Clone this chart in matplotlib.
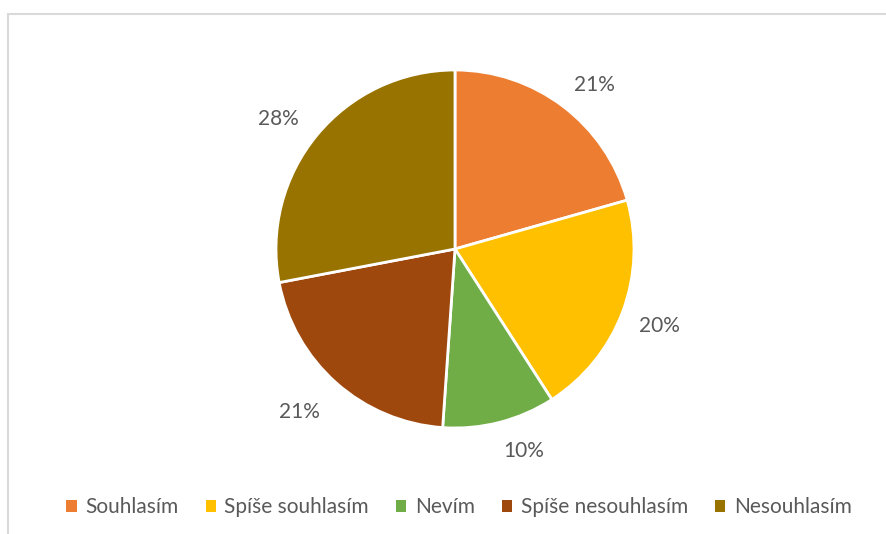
import matplotlib.pyplot as plt
from matplotlib.patches import Patch, Rectangle

# Data
categories = ['Souhlasím', 'Spíše souhlasím', 'Nevím', 'Spíše nesouhlasím', 'Nesouhlasím']
shares = [20.6, 20.3, 10.2, 20.9, 28.0]
colors = ['#ED7D31', '#FFC000', '#70AD47', '#9E480E', '#997300']

plt.rcParams['font.family'] = ['Lato', 'DejaVu Sans']
TEXT_COLOR = '#595959'

fig = plt.figure(figsize=(8.86, 5.34), dpi=100)
W, H = 886, 534
cx, cy, r = 455, 249, 179
ax = fig.add_axes([(cx - r) / W, (H - cy - r) / H, 2 * r / W, 2 * r / H])

wedges, texts, autotexts = ax.pie(
    shares, colors=colors, startangle=90, counterclock=False,
    autopct='%.0f%%', pctdistance=1.22, radius=1,
    wedgeprops=dict(edgecolor='white', linewidth=2),
    textprops=dict(color=TEXT_COLOR, fontsize=15),
)

# nudge labels to mimic Excel's "best fit" placement (pixel offsets)
nudges = [(8, -10), (0, 0), (14, 10), (-11, 0), (-8, -9)]
for t, (dx, dy) in zip(autotexts, nudges):
    x, y = t.get_position()
    t.set_position((x + dx / r, y + dy / r))

ax.set_xlim(-1, 1)
ax.set_ylim(-1, 1)
ax.set_aspect('equal')
ax.axis('off')

handles = [Patch(facecolor=c, edgecolor='none') for c in colors]
fig.legend(handles, categories, loc='center', bbox_to_anchor=(459 / W, 1 - 507 / H),
           ncol=5, frameon=False, fontsize=15, labelcolor=TEXT_COLOR,
           handlelength=0.5, handleheight=0.5, handletextpad=0.4, columnspacing=1.3)

# light chart border (clipped at right and bottom like the reference)
fig.patches.append(Rectangle((8 / W, -0.1), 1.0, 1 - 14 / H + 0.1, transform=fig.transFigure,
                             fill=False, edgecolor='#d9d9d9', linewidth=1.5))

plt.savefig('out.png', dpi=100)
